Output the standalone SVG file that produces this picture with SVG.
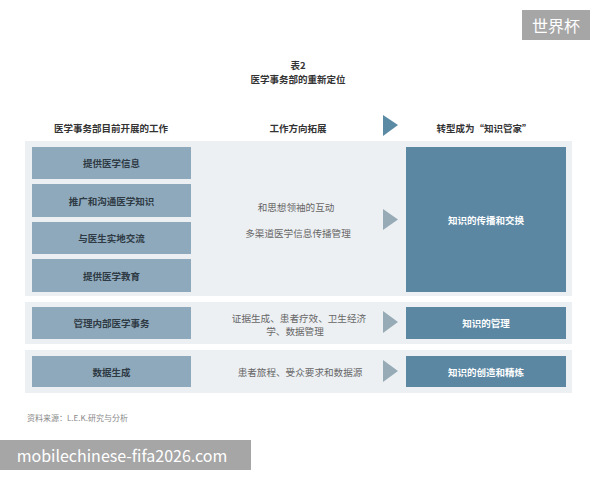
<svg xmlns="http://www.w3.org/2000/svg" width="600" height="480" viewBox="0 0 600 480">
<defs>
<style>
text{font-family:"Noto Sans CJK SC","Noto Sans",sans-serif;text-anchor:middle;dominant-baseline:central}
.ttl{font-size:9.5px;font-weight:bold;fill:#333}
.hdr{font-size:9.5px;font-weight:bold;fill:#333}
.panel{fill:#edf0f3}
.lbox{fill:#8ea9bc}
.rbox{fill:#5b87a3}
.ltxt{font-size:9.5px;font-weight:bold;fill:#2e3a44}
.rtxt{font-size:9.5px;font-weight:bold;fill:#fff}
.mtxt{font-family:"Liberation Serif","Noto Sans CJK SC",serif;font-size:9.6px;fill:#666}
.arr{fill:#97abb6}
.harr{fill:#5b8aa4}
.wm{fill:#a6a6a6}
.wmt{font-size:16px;fill:#fff}
</style>
</defs>
<rect width="600" height="480" fill="#fff"/>
<g id="watermark-top"><rect class="wm" x="522" y="10" width="68" height="30"/><text class="wmt" x="556" y="25">世界杯</text></g>
<g id="title"><text class="ttl" x="298" y="65">表2</text><text class="ttl" x="298" y="79">医学事务部的重新定位</text></g>
<g id="headers">
<text class="hdr" x="111" y="128">医学事务部目前开展的工作</text>
<text class="hdr" x="298" y="128">工作方向拓展</text>
<polygon class="harr" points="383,115 398,125 383,136"/>
<text class="hdr" x="484" y="128">转型成为“知识管家”</text>
</g>
<g id="row1">
<rect class="panel" x="25" y="141" width="547" height="155"/>
<g id="n1"><rect class="lbox" x="32" y="147" width="159" height="32"/><text class="ltxt" x="111.5" y="163">提供医学信息</text></g>
<g id="n2"><rect class="lbox" x="32" y="184" width="159" height="33"/><text class="ltxt" x="111.5" y="200.5">推广和沟通医学知识</text></g>
<g id="n3"><rect class="lbox" x="32" y="222" width="159" height="32"/><text class="ltxt" x="111.5" y="238">与医生实地交流</text></g>
<g id="n4"><rect class="lbox" x="32" y="259" width="159" height="33"/><text class="ltxt" x="111.5" y="275.5">提供医学教育</text></g>
<g id="m1"><text class="mtxt" x="296" y="207">和思想领袖的互动</text><text class="mtxt" x="298" y="233">多渠道医学信息传播管理</text></g>
<g id="r1"><rect class="rbox" x="406" y="147" width="160" height="145"/><text class="rtxt" x="486" y="220">知识的传播和交换</text></g>
</g>
<g id="row2">
<rect class="panel" x="25" y="302" width="547" height="42"/>
<g id="n5"><rect class="lbox" x="32" y="307" width="159" height="32"/><text class="ltxt" x="111.5" y="323">管理内部医学事务</text></g>
<g id="m2"><text class="mtxt" x="299" y="318">证据生成、患者疗效、卫生经济</text><text class="mtxt" x="295" y="331">学、数据管理</text></g>
<g id="r2"><rect class="rbox" x="406" y="307" width="160" height="32"/><text class="rtxt" x="486" y="323">知识的管理</text></g>
</g>
<g id="row3">
<rect class="panel" x="25" y="350" width="547" height="43"/>
<g id="n6"><rect class="lbox" x="32" y="356" width="159" height="31"/><text class="ltxt" x="111.5" y="371.5">数据生成</text></g>
<g id="m3"><text class="mtxt" x="300" y="372">患者旅程、受众要求和数据源</text></g>
<g id="r3"><rect class="rbox" x="406" y="356" width="160" height="31"/><text class="rtxt" x="486" y="371.5">知识的创造和精炼</text></g>
</g>
<g id="connectors">
<polygon class="arr" points="383,209 398,219.5 383,230"/>
<polygon class="arr" points="383,311 398,322 383,333"/>
<polygon class="arr" points="383,360 398,371 383,382"/>
</g>
<text x="27" y="417" style="text-anchor:start;font-size:8px;fill:#888">资料来源：L.E.K.研究与分析</text>
<g id="watermark-bottom"><rect class="wm" x="0" y="440" width="251" height="30"/><text class="wmt" x="122" y="455">mobilechinese-fifa2026.com</text></g>
</svg>
